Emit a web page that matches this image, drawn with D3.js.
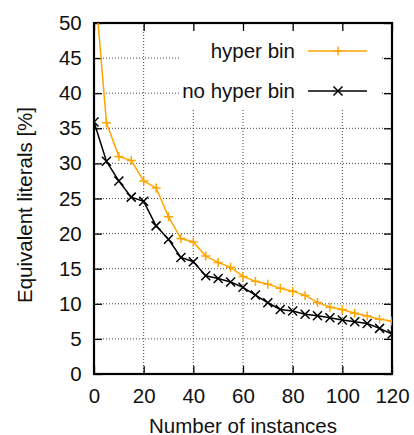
<!DOCTYPE html>
<html>
<head>
<meta charset="utf-8">
<script src="https://cdn.jsdelivr.net/npm/d3@7"></script>
<style>
  html, body { margin: 0; padding: 0; background: #fff; }
  svg { display: block; font-family: "Liberation Sans", Arial, Helvetica, sans-serif; }
</style>
</head>
<body>
<svg id="chart" width="414" height="435"></svg>
<script>
// Number of instances (x) and equivalent literals in percent (y)
const instances = [0, 5, 10, 15, 20, 25, 30, 35, 40, 45, 50, 55, 60, 65, 70, 75, 80, 85, 90, 95, 100, 105, 110, 115, 120];
const hyperBin = [57, 35.8, 31.0, 30.4, 27.5, 26.5, 22.4, 19.3, 18.8, 16.8, 15.9, 15.2, 13.9, 13.2, 12.8, 12.2, 11.8, 11.2, 10.2, 9.5, 9.2, 8.65, 8.25, 7.8, 7.55];
const noHyperBin = [35.9, 30.3, 27.5, 25.2, 24.6, 21.1, 19.2, 16.6, 16.0, 14.0, 13.6, 13.1, 12.35, 11.25, 10.15, 9.2, 8.97, 8.5, 8.3, 8.0, 7.7, 7.45, 7.2, 6.5, 5.7];
const xTicks = [0, 20, 40, 60, 80, 100, 120];
const yTicks = [0, 5, 10, 15, 20, 25, 30, 35, 40, 45, 50];
const seriesNames = ["hyper bin", "no hyper bin"];

const W = 414, H = 435;
const margin = { top: 23, right: 22, bottom: 61, left: 94 };
const iw = W - margin.left - margin.right;
const ih = H - margin.top - margin.bottom;

const svg = d3.select("#chart");
const g = svg.append("g").attr("transform", `translate(${margin.left},${margin.top})`);

const x = d3.scaleLinear().domain([0, 120]).range([0, iw]);
const y = d3.scaleLinear().domain([0, 50]).range([ih, 0]);

// dotted grid
const grid = g.append("g").attr("stroke", "#444").attr("stroke-width", 1).attr("stroke-dasharray", "1,2");
grid.selectAll(".vg").data(xTicks.slice(1, -1)).join("line")
  .attr("x1", d => x(d)).attr("x2", d => x(d)).attr("y1", 0).attr("y2", ih);
grid.selectAll(".hg").data(yTicks.slice(1, -1)).join("line")
  .attr("x1", 0).attr("x2", iw).attr("y1", d => y(d)).attr("y2", d => y(d));

// opaque key box
const keyBox = { x0: 86, x1: 286, y0: 1, y1: 87 };
g.append("rect")
  .attr("x", keyBox.x0).attr("y", keyBox.y0)
  .attr("width", keyBox.x1 - keyBox.x0).attr("height", keyBox.y1 - keyBox.y0)
  .attr("fill", "#fff");

// axes with inward ticks, mirrored on top/right
const fs = 20.5;
const ax = g.append("g").attr("transform", `translate(0,${ih})`)
  .call(d3.axisBottom(x).tickValues(xTicks).tickSize(-8).tickPadding(14.7));
const ay = g.append("g")
  .call(d3.axisLeft(y).tickValues(yTicks).tickSize(-8).tickPadding(12.3));
const at = g.append("g")
  .call(d3.axisTop(x).tickValues(xTicks).tickSize(-8).tickFormat(""));
const ar = g.append("g").attr("transform", `translate(${iw},0)`)
  .call(d3.axisRight(y).tickValues(yTicks).tickSize(-8).tickFormat(""));
[ax, ay, at, ar].forEach(a => {
  a.select(".domain").remove();
  a.selectAll(".tick line").attr("stroke", "#000").attr("stroke-width", 1.3);
  a.selectAll("text").attr("font-size", fs).attr("fill", "#111");
  a.attr("font-family", null).attr("font-size", null);
});

// border
g.append("rect").attr("x", 0).attr("y", 0).attr("width", iw).attr("height", ih)
  .attr("fill", "none").attr("stroke", "#000").attr("stroke-width", 2.2);

// clip for the data
svg.append("defs").append("clipPath").attr("id", "plotclip")
  .append("rect").attr("x", 0).attr("y", 0).attr("width", iw).attr("height", ih);

const series = [
  { name: seriesNames[0], values: hyperBin, color: "#FFA500", marker: "plus" },
  { name: seriesNames[1], values: noHyperBin, color: "#000", marker: "cross" }
];

function markerPath(type, cx, cy) {
  const s = 4.5;
  if (type === "plus") return `M${cx - s},${cy}H${cx + s}M${cx},${cy - s}V${cy + s}`;
  return `M${cx - s},${cy - s}L${cx + s},${cy + s}M${cx - s},${cy + s}L${cx + s},${cy - s}`;
}

const line = d3.line().x(d => x(d[0])).y(d => y(d[1]));
const dataG = g.append("g").attr("clip-path", "url(#plotclip)");
series.forEach(s => {
  const pts = instances.map((v, i) => [v, s.values[i]]);
  dataG.append("path").datum(pts).attr("d", line)
    .attr("fill", "none").attr("stroke", s.color).attr("stroke-width", 1.5);
  dataG.append("path")
    .attr("d", pts.filter(p => p[1] <= 50).map(p => markerPath(s.marker, x(p[0]), y(p[1]))).join(""))
    .attr("fill", "none").attr("stroke", s.color).attr("stroke-width", 1.5);
});

// key entries
const key = g.append("g");
series.forEach((s, i) => {
  const ky = 28 + i * 40;
  key.append("text").attr("x", 201).attr("y", ky).attr("dy", "0.35em")
    .attr("text-anchor", "end").attr("font-size", fs).attr("fill", "#111").text(s.name);
  key.append("line").attr("x1", 214).attr("x2", 273).attr("y1", ky).attr("y2", ky)
    .attr("stroke", s.color).attr("stroke-width", 1.5);
  key.append("path").attr("d", markerPath(s.marker, 244, ky))
    .attr("fill", "none").attr("stroke", s.color).attr("stroke-width", 1.5);
});

// axis titles
svg.append("text").attr("x", margin.left + iw / 2).attr("y", 432.5)
  .attr("text-anchor", "middle").attr("font-size", fs).attr("fill", "#111").text("Number of instances");
svg.append("text").attr("transform", `translate(31.5,205) rotate(-90)`)
  .attr("text-anchor", "middle").attr("font-size", fs).attr("fill", "#111").text("Equivalent literals [%]");
</script>
</body>
</html>
